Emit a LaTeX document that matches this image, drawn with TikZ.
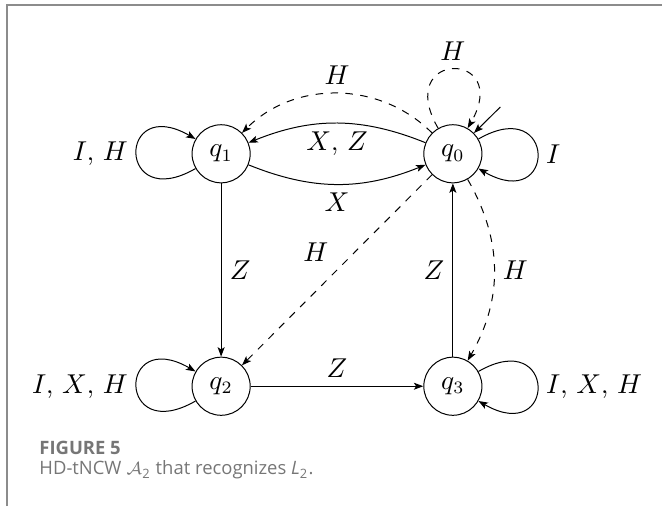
\documentclass[tikz,border=0pt]{standalone}
\usepackage{amsmath}
\usepackage{fontspec}
\setsansfont{Open Sans}
\usepackage{tikz}
\usetikzlibrary{arrows.meta}

\definecolor{capgray}{RGB}{118,118,118}
\definecolor{framegray}{RGB}{140,140,140}

\tikzset{
	state/.style={draw, circle, minimum size=0.82cm, inner sep=0pt},
	trans/.style={-{Stealth[length=3.8pt, width=2.8pt, inset=0.9pt]}},
	htrans/.style={trans, dashed},
	selfloop/.style={min distance=1.28cm},
	captext/.style={anchor=base west, inner sep=0pt, text=capgray, font=\sffamily\fontsize{7.4}{8}\selectfont}
}

\begin{document}
\begin{tikzpicture}[every node/.style={font=\fontsize{10.5}{12.6}\selectfont}]

	\useasboundingbox (0,0) rectangle (9.341,7.140);
	\draw[framegray, line width=0.6pt] (0.099,0) -- (0.099,7.07) -- (9.341,7.07);

	\node[state] (q1) at (3.12,4.97) {$q_1$};
	\node[state] (q0) at (6.39,4.97) {$q_0$};
	\node[state] (q2) at (3.12,1.69) {$q_2$};
	\node[state] (q3) at (6.39,1.69) {$q_3$};
	\coordinate (init) at (7.06,5.63);

	\draw[trans] (init) -- (q0);
	\draw[trans] (q0) to[selfloop, out=30, in=-30] node[right] {$I$} (q0);
	\draw[htrans] (q0) to[selfloop, out=120, in=60] node[above] {$H$} (q0);
	\draw[trans] (q1) to[selfloop, out=210, in=150] node[left] {$I$, $H$} (q1);
	\draw[trans] (q2) to[selfloop, out=210, in=150] node[left] {$I$, $X$, $H$} (q2);
	\draw[trans] (q3) to[selfloop, out=30, in=-30] node[right] {$I$, $X$, $H$} (q3);

	\draw[trans] (q0) to[bend right=22] node[below] {$X$, $Z$} (q1);
	\draw[trans] (q1) to[bend right=22] node[below] {$X$} (q0);
	\draw[htrans] (q0) to[bend right=45] node[above] {$H$} (q1);
	\draw[trans] (q1) -- node[right] {$Z$} (q2);
	\draw[htrans] (q0) -- node[above left] {$H$} (q2);
	\draw[trans] (q2) -- node[above] {$Z$} (q3);
	\draw[trans] (q3) -- node[left] {$Z$} (q0);
	\draw[htrans] (q0) to[bend left=30] node[right] {$H$} (q3);

	\node[captext, font=\sffamily\bfseries\fontsize{7.4}{8}\selectfont] (fig) at (0.55,0.72) {FIGURE 5};
	\node[captext] (cap) at (0.55,0.44) {HD-tNCW $\mathcal{A}$\textsubscript{2} that recognizes \textit{L}\textsubscript{2}.};

\end{tikzpicture}
\end{document}
